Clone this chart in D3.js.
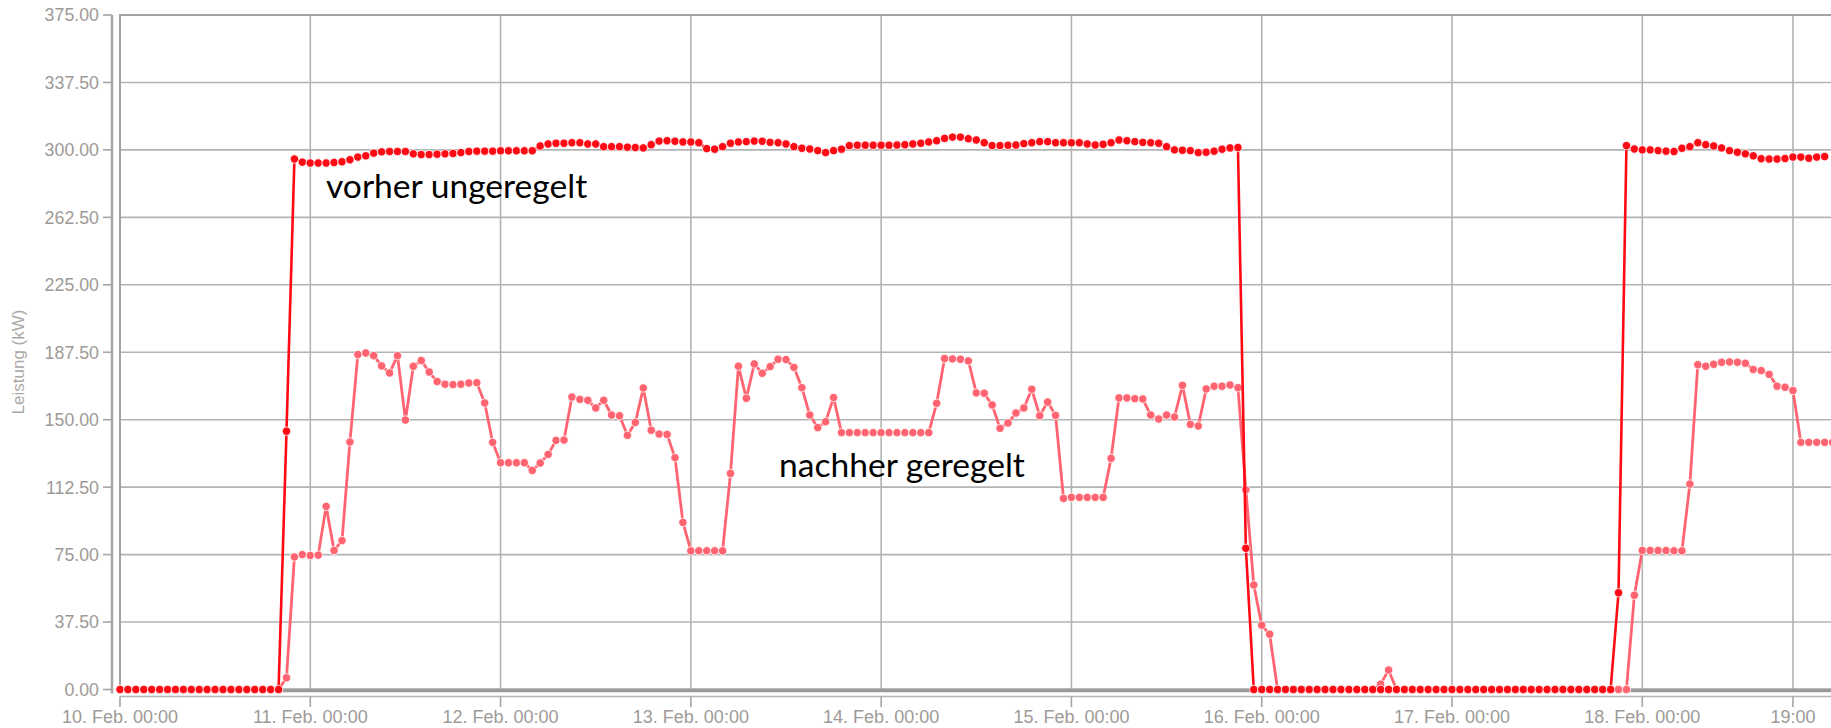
<!DOCTYPE html>
<html>
<head>
<meta charset="utf-8">
<script src="https://cdn.jsdelivr.net/npm/d3@7"></script>
<style>
  html, body { margin: 0; padding: 0; background: #ffffff; }
  svg { display: block; }
</style>
</head>
<body>
<svg id="chart" width="1831" height="728"></svg>
<script>
// Hourly power readings starting 10 Feb 00:00 (one value per hour, kW)
const startTime = Date.UTC(2021, 1, 10, 0, 0);

const vorher = [
  0, 0, 0, 0, 0, 0, 0, 0, 0, 0, 0, 0, 0, 0, 0, 0, 0, 0, 0, 0, 0,
  143.6, 294.9, 293.2,
  292.7, 292.7, 292.7, 293.0, 293.4, 294.5, 296.0, 296.7, 298.2, 298.9, 299.1, 299.1,
  299.1, 297.8, 297.4, 297.4, 297.6, 297.8, 298.0, 298.5, 299.1, 299.3, 299.3, 299.3,
  299.5, 299.5, 299.5, 299.5, 299.5, 302.2, 303.3, 303.7, 303.7, 304.0, 304.0, 303.3,
  303.3, 301.8, 301.8, 301.8, 301.5, 301.3, 301.1, 302.9, 304.9, 305.1, 304.8, 304.4,
  304.4, 304.0, 300.7, 300.4, 301.8, 303.7, 304.4, 304.6, 304.9, 304.8, 304.2, 304.0,
  303.3, 301.8, 300.9, 300.5, 299.6, 298.5, 299.6, 300.4, 302.4, 302.6, 302.6, 302.6,
  302.6, 302.6, 302.7, 302.9, 303.3, 303.7, 304.4, 305.1, 306.4, 307.1, 307.1, 306.2,
  305.5, 304.0, 302.4, 302.4, 302.6, 302.7, 303.5, 304.0, 304.6, 304.6, 304.0, 304.0,
  304.0, 304.0, 303.3, 302.7, 303.1, 304.0, 305.5, 305.1, 304.6, 304.2, 304.0, 303.7,
  301.8, 300.0, 299.8, 299.6, 298.5, 298.7, 299.3, 300.4, 301.1, 301.3, 78.5, 0,
  0, 0, 0, 0, 0, 0, 0, 0, 0, 0, 0, 0, 0, 0, 0, 0, 0, 0, 0, 0, 0, 0, 0, 0,
  0, 0, 0, 0, 0, 0, 0, 0, 0, 0, 0, 0, 0, 0, 0, 0, 0, 0, 0, 0, 0,
  53.8, 302.4, 300.5,
  300.0, 300.0, 299.6, 299.3, 299.1, 300.9, 301.8, 304.0, 302.9, 302.2, 301.1, 299.6,
  298.7, 297.8, 296.7, 295.1, 294.9, 294.9, 295.2, 296.0, 296.0, 295.4, 296.0, 296.3
];

const nachher = [
  0, 0, 0, 0, 0, 0, 0, 0, 0, 0, 0, 0, 0, 0, 0, 0, 0, 0, 0, 0, 0,
  6.5, 73.7, 75.0,
  74.5, 74.7, 101.8, 77.3, 82.8, 137.6, 186.2, 187.1, 185.6, 179.9, 176.0, 185.6,
  149.8, 179.7, 182.9, 176.5, 171.2, 169.7, 169.5, 169.7, 170.4, 170.6, 159.3, 137.4,
  126.1, 126.1, 126.1, 126.1, 121.8, 125.9, 130.7, 138.5, 138.7, 162.6, 161.3, 160.8,
  156.5, 160.8, 152.6, 152.2, 141.3, 148.5, 167.6, 144.1, 142.0, 141.8, 128.9, 92.9,
  77.1, 77.1, 77.1, 77.1, 77.1, 120.1, 179.7, 161.9, 181.0, 175.8, 179.5, 183.6,
  183.4, 179.1, 167.8, 152.6, 145.6, 148.9, 162.3, 142.8, 142.8, 142.8, 142.8, 142.8,
  142.8, 142.8, 142.8, 142.8, 142.8, 142.8, 142.8, 159.1, 184.0, 183.8, 183.6, 182.7,
  164.9, 164.7, 158.2, 145.2, 148.2, 153.7, 156.5, 166.9, 152.2, 159.8, 152.4, 106.2,
  106.8, 106.8, 106.8, 106.8, 106.8, 128.5, 162.1, 162.1, 161.7, 161.5, 152.6, 150.4,
  152.6, 151.5, 169.1, 147.4, 146.5, 167.1, 168.6, 168.6, 169.3, 167.8, 111.0, 58.1,
  35.7, 30.7, 0, 0, 0, 0, 0, 0, 0, 0, 0, 0, 0, 0, 0, 3.0, 10.8, 0,
  0, 0, 0, 0, 0, 0, 0, 0, 0, 0, 0, 0, 0, 0, 0, 0, 0, 0, 0, 0, 0, 0, 0, 0,
  0, 0, 0, 0, 0, 52.4, 77.3, 77.3,
  77.3, 77.3, 77.1, 77.1, 114.2, 180.6, 179.7, 180.8, 181.9, 182.1, 181.9, 181.4,
  177.9, 177.3, 175.2, 168.6, 168.0, 166.2, 137.4, 137.4, 137.4, 137.4, 137.4
];

const yTicks = [0, 37.5, 75, 112.5, 150, 187.5, 225, 262.5, 300, 337.5, 375];

const xTickTimes = [
  Date.UTC(2021, 1, 10), Date.UTC(2021, 1, 11), Date.UTC(2021, 1, 12),
  Date.UTC(2021, 1, 13), Date.UTC(2021, 1, 14), Date.UTC(2021, 1, 15),
  Date.UTC(2021, 1, 16), Date.UTC(2021, 1, 17), Date.UTC(2021, 1, 18),
  Date.UTC(2021, 1, 18, 19)
];
const xTickLabels = [
  "10. Feb. 00:00", "11. Feb. 00:00", "12. Feb. 00:00", "13. Feb. 00:00",
  "14. Feb. 00:00", "15. Feb. 00:00", "16. Feb. 00:00", "17. Feb. 00:00",
  "18. Feb. 00:00", "19:00"
];

const yTitle = "Leistung (kW)";
const seriesLabels = ["vorher ungeregelt", "nachher geregelt"];

// ---------------------------------------------------------------------------
const W = 1831, H = 728;
const plotLeft = 120, plotTop = 15, plotBottom = 689.5, plotRight = 1845;
const HOUR = 3600 * 1000;

const x = d3.scaleUtc()
  .domain([new Date(startTime), new Date(startTime + 192 * HOUR)])
  .range([plotLeft, 1642.3]);
const y = d3.scaleLinear().domain([0, 375]).range([plotBottom, plotTop]);

const svg = d3.select("#chart");
const labelFont = "'Liberation Sans', Arial, sans-serif";
const gridColor = "#b3b3b3";
const axisText = "#9e9a97";

// grid
const grid = svg.append("g");
grid.selectAll("line.h").data(yTicks).join("line")
  .attr("class", "h")
  .attr("x1", plotLeft).attr("x2", W)
  .attr("y1", d => y(d)).attr("y2", d => y(d))
  .attr("stroke", gridColor).attr("stroke-width", 1.6);
grid.selectAll("line.v").data(xTickTimes).join("line")
  .attr("class", "v")
  .attr("x1", d => x(new Date(d))).attr("x2", d => x(new Date(d)))
  .attr("y1", plotTop).attr("y2", plotBottom)
  .attr("stroke", gridColor).attr("stroke-width", 1.6);

// plot frame
svg.append("rect")
  .attr("x", plotLeft).attr("y", plotTop)
  .attr("width", plotRight - plotLeft).attr("height", plotBottom - plotTop)
  .attr("fill", "none").attr("stroke", "#a3a3a3").attr("stroke-width", 2);
svg.append("line")
  .attr("x1", plotLeft).attr("x2", W).attr("y1", plotBottom + 1).attr("y2", plotBottom + 1)
  .attr("stroke", "#9a9a9a").attr("stroke-width", 3.5);

// y axis (offset from the plot)
const yAxisX = 112;
svg.append("line")
  .attr("x1", yAxisX).attr("x2", yAxisX).attr("y1", plotTop).attr("y2", plotBottom + 4)
  .attr("stroke", "#a6a6a6").attr("stroke-width", 2.5);
svg.append("g").selectAll("line").data(yTicks).join("line")
  .attr("x1", 103).attr("x2", yAxisX)
  .attr("y1", d => y(d)).attr("y2", d => y(d))
  .attr("stroke", "#a6a6a6").attr("stroke-width", 1.6);
const fmt = d3.format(".2f");
svg.append("g").selectAll("text").data(yTicks).join("text")
  .attr("x", 99).attr("y", d => y(d))
  .attr("dy", "0.36em")
  .attr("text-anchor", "end")
  .attr("font-family", labelFont).attr("font-size", 17.8)
  .attr("fill", axisText)
  .text(d => fmt(d));

svg.append("text")
  .attr("transform", "translate(24,362) rotate(-90)")
  .attr("text-anchor", "middle")
  .attr("font-family", labelFont).attr("font-size", 17)
  .attr("fill", "#a9a9a9")
  .text(yTitle);

// x axis
const xAxisY = 696.5;
svg.append("line")
  .attr("x1", plotLeft).attr("x2", W).attr("y1", xAxisY).attr("y2", xAxisY)
  .attr("stroke", "#b5b5b5").attr("stroke-width", 1.6);
svg.append("g").selectAll("line").data(xTickTimes).join("line")
  .attr("x1", d => x(new Date(d))).attr("x2", d => x(new Date(d)))
  .attr("y1", xAxisY).attr("y2", 707)
  .attr("stroke", "#a6a6a6").attr("stroke-width", 1.6);
svg.append("g").selectAll("text").data(xTickTimes).join("text")
  .attr("x", d => x(new Date(d))).attr("y", 722.5)
  .attr("text-anchor", "middle")
  .attr("font-family", labelFont).attr("font-size", 18)
  .attr("fill", axisText)
  .text((d, i) => xTickLabels[i]);

// series
svg.append("clipPath").attr("id", "plotClip")
  .append("rect").attr("x", plotLeft - 6).attr("y", 0).attr("width", W).attr("height", 700);

const plot = svg.append("g").attr("clip-path", "url(#plotClip)");
const toPoints = arr => arr.map((v, i) => ({ t: new Date(startTime + i * HOUR), v }));
const line = d3.line().x(d => x(d.t)).y(d => y(d.v));

function drawSeries(values, color, width) {
  const pts = toPoints(values);
  const g = plot.append("g");
  g.append("path").datum(pts)
    .attr("d", line).attr("fill", "none")
    .attr("stroke", color).attr("stroke-width", width)
    .attr("stroke-linejoin", "round");
  g.selectAll("circle").data(pts).join("circle")
    .attr("cx", d => x(d.t)).attr("cy", d => y(d.v))
    .attr("r", 4.2)
    .attr("fill", color)
    .attr("stroke", "#ffffff").attr("stroke-width", 0.8);
}

drawSeries(nachher, "#ff6470", 2.8);
drawSeries(vorher, "#ff0a14", 2.6);

// series annotations
const annFont = "Lato, 'Open Sans', sans-serif";
svg.append("text")
  .attr("x", 326).attr("y", 198)
  .attr("font-family", annFont).attr("font-size", 33.6)
  .attr("fill", "#000").text(seriesLabels[0]);
svg.append("text")
  .attr("x", 779).attr("y", 477)
  .attr("font-family", annFont).attr("font-size", 33.6)
  .attr("fill", "#000").text(seriesLabels[1]);
</script>
</body>
</html>
